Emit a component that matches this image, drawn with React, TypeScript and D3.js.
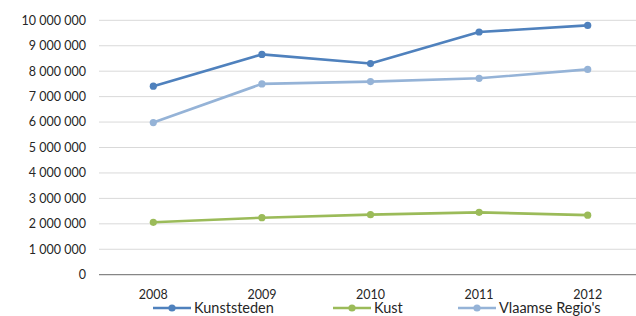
import * as d3 from 'd3';

const YEARS = ['2008', '2009', '2010', '2011', '2012'];
const KUNSTSTEDEN = [7410000, 8660000, 8300000, 9540000, 9800000];
const KUST = [2060000, 2240000, 2360000, 2450000, 2340000];
const VLAAMSE = [5980000, 7500000, 7590000, 7720000, 8070000];
const Y_TICKS = [0, 1000000, 2000000, 3000000, 4000000, 5000000, 6000000, 7000000, 8000000, 9000000, 10000000];

const SERIES = [
  { name: 'Kunststeden', values: KUNSTSTEDEN, color: '#4f81bd' },
  { name: 'Kust', values: KUST, color: '#9bbb59' },
  { name: "Vlaamse Regio's", values: VLAAMSE, color: '#95b3d7' },
];

const W = 636;
const H = 316;
const FONT = 'Lato, "Open Sans", sans-serif';

// space-separated thousands, as in the original
const fmt = (v: number) => d3.format(',')(v).replace(/,/g, ' ');

export default function App() {
  const x = d3.scaleBand<string>().domain(YEARS).range([99, 642]).padding(0);
  const y = d3.scaleLinear().domain([0, 10000000]).range([274.7, 20.3]);
  const cx = (d: string) => (x(d) ?? 0) + x.bandwidth() / 2;
  const line = d3.line<number>().x((_, i) => cx(YEARS[i])).y(v => y(v));

  const legendX = [153, 333, 458];

  return (
    <svg width={W} height={H} style={{ position: 'absolute', left: 0, top: 0, background: '#fff' }}
      fontFamily={FONT}>
      {/* gridlines */}
      {Y_TICKS.filter(t => t > 0).map(t => (
        <line key={t} x1={99} x2={W} y1={y(t)} y2={y(t)} stroke="#d9d9d9" strokeWidth={1} />
      ))}
      {/* x axis */}
      <line x1={99} x2={W} y1={y(0)} y2={y(0)} stroke="#868686" strokeWidth={1.2} />

      {/* y labels */}
      {Y_TICKS.map(t => (
        <text key={t} x={86} y={y(t)} dy="0.35em" textAnchor="end" fontSize={12.5} fill="#262626">
          {fmt(t)}
        </text>
      ))}
      {/* x labels */}
      {YEARS.map(yr => (
        <text key={yr} x={cx(yr)} y={295} dy="0.35em" textAnchor="middle" fontSize={12.5} fill="#262626">
          {yr}
        </text>
      ))}

      {/* series */}
      {SERIES.map(s => (
        <g key={s.name}>
          <path d={line(s.values) ?? ''} fill="none" stroke={s.color} strokeWidth={2.6}
            strokeLinejoin="round" strokeLinecap="round" />
          {s.values.map((v, i) => (
            <circle key={i} cx={cx(YEARS[i])} cy={y(v)} r={3.6} fill={s.color} />
          ))}
        </g>
      ))}

      {/* legend */}
      {SERIES.map((s, i) => (
        <g key={s.name} transform={`translate(${legendX[i]},308)`}>
          <line x1={0} x2={38} y1={0} y2={0} stroke={s.color} strokeWidth={2.6} />
          <circle cx={19} cy={0} r={3.6} fill={s.color} />
          <text x={41} y={0} dy="0.35em" fontSize={14.5} fill="#262626">{s.name}</text>
        </g>
      ))}
    </svg>
  );
}
